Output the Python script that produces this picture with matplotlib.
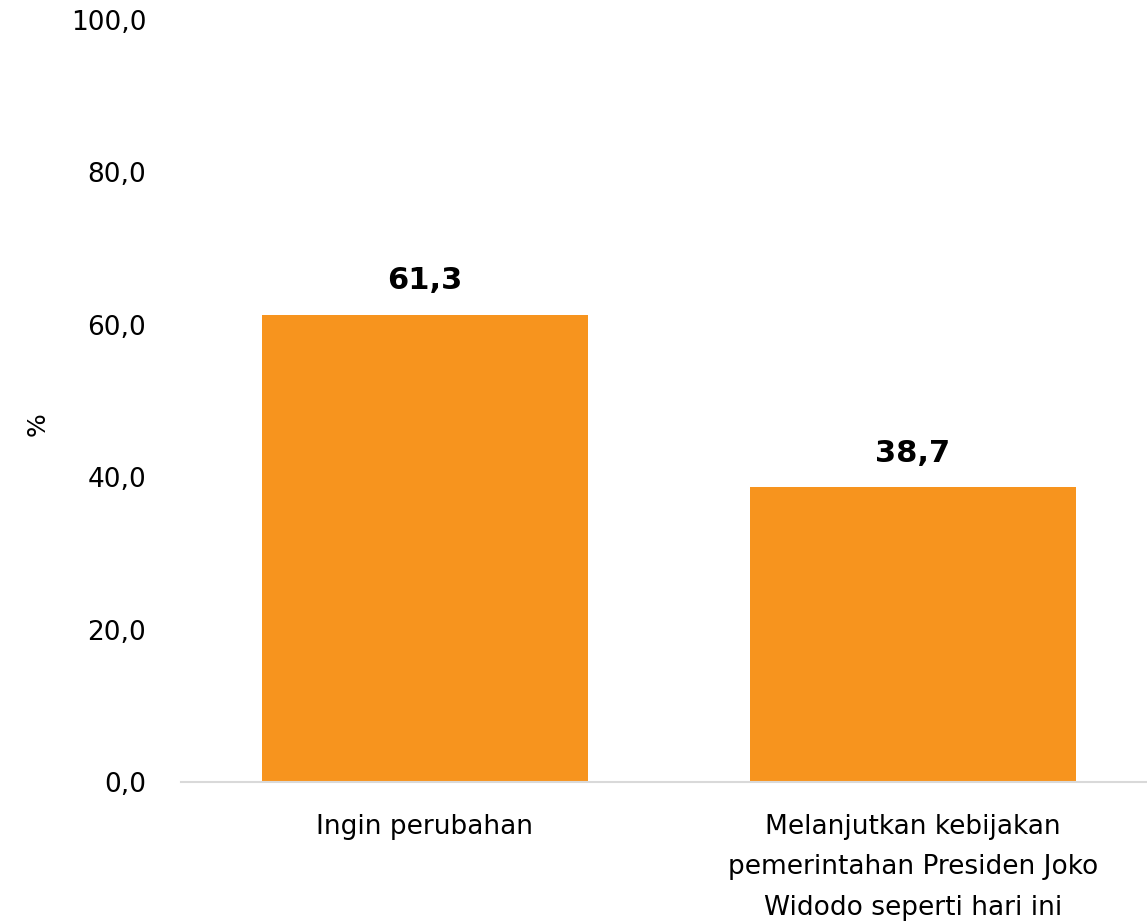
import matplotlib
matplotlib.use('Agg')
import matplotlib.pyplot as plt
from matplotlib.ticker import FuncFormatter

# data
categories = ['Ingin perubahan',
              'Melanjutkan kebijakan\npemerintahan Presiden Joko\nWidodo seperti hari ini']
values = [61.3, 38.7]
yticks = [0, 20, 40, 60, 80, 100]

bar_color = '#F7941E'

plt.rcParams['font.family'] = ['DejaVu Sans']

fig = plt.figure(figsize=(11.47, 9.21), dpi=100)
ax = fig.add_axes([181 / 1147, 139 / 921, 976 / 1147, 762 / 921])

x = range(len(categories))
ax.bar(x, values, width=0.668, color=bar_color, zorder=2)

# value labels above bars
for xi, v in zip(x, values):
    ax.annotate(f'{v:.1f}'.replace('.', ','), (xi, v), xytext=(0, 14),
                textcoords='offset points', ha='center', va='bottom',
                fontsize=22, fontweight='bold', color='black')

ax.set_xlim(-0.5, 1.5)
ax.set_ylim(0, 100)
ax.set_yticks(yticks)
ax.yaxis.set_major_formatter(FuncFormatter(lambda v, p: f'{v:.1f}'.replace('.', ',')))
ax.set_xticks(list(x))
ax.set_xticklabels(categories, fontsize=19, linespacing=1.72, va='top')

ax.tick_params(axis='y', length=0, pad=25, labelsize=19)
ax.tick_params(axis='x', length=0, pad=23)

for s in ['top', 'right', 'left']:
    ax.spines[s].set_visible(False)
ax.spines['bottom'].set_color('#d9d9d9')
ax.spines['bottom'].set_linewidth(1.5)

ax.set_ylabel('%', fontsize=18)
ax.yaxis.set_label_coords(-0.135, 0.47)

fig.savefig('out.png', dpi=100)
